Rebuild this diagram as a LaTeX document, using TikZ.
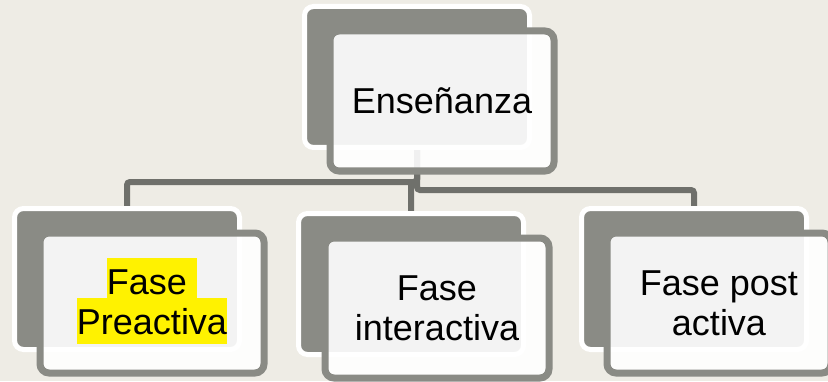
\documentclass[tikz,border=0pt]{standalone}
\usepackage{fontspec}
\setmainfont{Liberation Sans}
\usepackage{tikz}
\usetikzlibrary{backgrounds}
\definecolor{paper}{HTML}{EEECE5}
\definecolor{shade}{HTML}{8A8B85}
\definecolor{linkgray}{HTML}{6F706B}
\setlength{\fboxsep}{0pt}
\newcommand{\hl}[1]{\smash{\colorbox{yellow}{\vrule height 37pt depth 9pt width 0pt #1}}}
\tikzstyle{back}=[draw=white, line width=5pt, fill=shade, rounded corners=9pt,
  minimum width=225pt, minimum height=141pt, inner sep=0pt]
\tikzstyle{front}=[draw=shade, line width=7pt, fill=white, fill opacity=.9,
  text opacity=1, rounded corners=9pt, minimum width=224pt, minimum height=140pt,
  inner sep=0pt, align=center, font=\fontsize{36}{40}\selectfont]
\tikzstyle{link}=[draw=linkgray, line width=6pt, rounded corners=3pt]

\begin{document}
\begin{tikzpicture}[x=1pt,y=1pt]
    \useasboundingbox (0,0) rectangle (828,381);
    \clip (0,0) rectangle (828,381);
    \node[back] (bE) at (417,304) {};
    \node[front] (E) at (442,280) {Enseñanza};
    \node[back] (bPre) at (127,102) {};
    \node[front] (Pre) at (152,78) {\vrule height 23pt width 0pt\hl{Fase\ }\\\hl{Preactiva}};
    \node[back] (bInt) at (411,97) {};
    \node[front] (Int) at (437,73) {Fase\\interactiva};
    \node[back] (bPost) at (694,102) {};
    \node[front] (Post) at (719,78) {Fase post\\activa};
    \begin{scope}[on background layer]
      \fill[fill=paper] (0,0) rectangle (828,381);
      \draw[link] (bE.south) -- ++(0,-32) -| (bPre.north);
      \draw[link] (bE.south) -- ++(0,-32) -| (bInt.north);
      \draw[link] (bE.south) -- ++(0,-40) -| (bPost.north);
    \end{scope}
\end{tikzpicture}
\end{document}
